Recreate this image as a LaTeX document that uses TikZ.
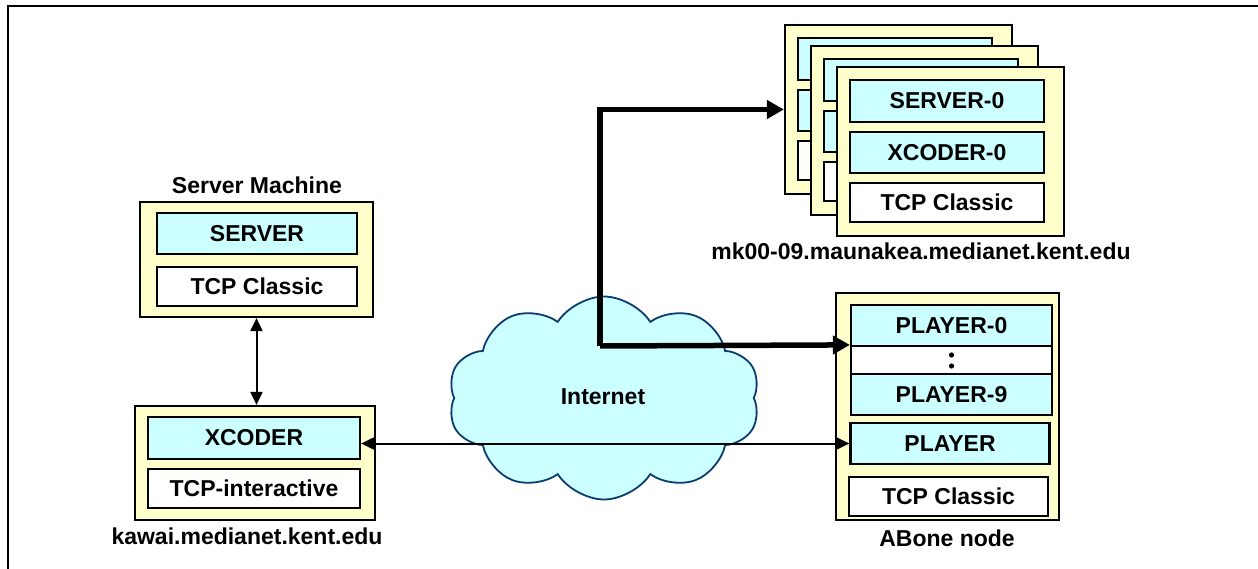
\documentclass[tikz,border=0pt]{standalone}
\usepackage{fontspec}
\setmainfont{Liberation Sans}
\usepackage{xcolor}
\usetikzlibrary{arrows.meta,shapes.symbols}

\definecolor{boxyellow}{HTML}{FFFFCC}
\definecolor{layercyan}{HTML}{CCFFFF}
\definecolor{cloudline}{HTML}{0B3C6E}

\begin{document}
\begin{tikzpicture}[x=1pt,y=-1pt,
    font=\fontsize{23}{25}\selectfont\bfseries,
    machine/.style={draw,fill=boxyellow,line width=2.2pt,inner sep=0pt},
    layer/.style={draw,fill=layercyan,line width=2.2pt,inner sep=0pt,minimum height=41pt},
    plainlayer/.style={draw,fill=white,line width=2.2pt,inner sep=0pt,minimum height=39pt},
    hostname/.style={inner sep=0pt}]
                \useasboundingbox (0,0) rectangle (1258,569);
                \draw[line width=2.6pt] (1258,6) -- (8,6) -- (8,569);
                % the internet
                \node[cloud,cloud puffs=10,cloud puff arc=115,aspect=1.5,draw=cloudline,fill=layercyan,
                      line width=1.8pt,minimum width=312pt,minimum height=203pt] (net) at (604,398) {};
                \node (netlabel) at (603,397) {Internet};
                % server machine
                \node[hostname] (srvlabel) at (257,185) {Server Machine};
                \node[machine,minimum width=233pt,minimum height=115pt] (srvm) at (256.5,259.5) {};
                \node[layer,minimum width=200pt] (srv) at (257,233.5) {SERVER};
                \node[plainlayer,minimum width=200pt] (srvtcp) at (257,286.5) {TCP Classic};
                % transcoder machine
                \node[machine,minimum width=240pt,minimum height=114pt] (xcm) at (255,463) {};
                \node[layer,minimum width=212pt,minimum height=42pt] (xc) at (254,438) {XCODER};
                \node[plainlayer,minimum width=212pt] (xctcp) at (254,488.5) {TCP-interactive};
                \node[hostname] (xclabel) at (247,536) {kawai.medianet.kent.edu};
                % stack of mk nodes
                \foreach \i in {0,1}
                {
                    \node[machine,minimum width=227pt,minimum height=169pt] (stack\i) at (898.5+26*\i,109.5+21*\i) {};
                    \node[layer,minimum width=194pt,minimum height=42pt] at (895+26*\i,59+21*\i) {};
                    \node[layer,minimum width=194pt] at (895+26*\i,110.5+21*\i) {};
                    \node[plainlayer,minimum width=194pt] at (895+26*\i,160.5+21*\i) {};
                }
                \node[machine,minimum width=227pt,minimum height=169pt] (stack2) at (950.5,151.5) {};
                \node[layer,minimum width=194pt,minimum height=42pt] (mksrv) at (947,101) {SERVER-0};
                \node[layer,minimum width=194pt] (mkxc) at (947,152.5) {XCODER-0};
                \node[plainlayer,minimum width=194pt] (mktcp) at (947,202.5) {TCP Classic};
                \node[hostname] (mklabel) at (921,251) {mk00-09.maunakea.medianet.kent.edu};
                % abone node
                \node[machine,minimum width=223pt,minimum height=227pt] (abm) at (947.5,406.5) {};
                \node[layer,minimum width=201pt] (pl0) at (951.5,325.5) {PLAYER-0};
                \node[draw,fill=white,line width=2.2pt,inner sep=0pt,minimum width=201pt,minimum height=28pt] (pldots) at (951.5,360) {};
                \fill (951.5,355) circle (2.6pt) (951.5,366) circle (2.6pt);
                \node[layer,minimum width=201pt] (pl9) at (951.5,394.5) {PLAYER-9};
                \node[layer,minimum width=199pt] (pl) at (950,443.5) {PLAYER};
                \node[plainlayer,minimum width=199pt] (abtcp) at (948.5,496.5) {TCP Classic};
                \node[hostname] (ablabel) at (947,538) {ABone node};
                % connections
                \draw[{Triangle[length=13pt,width=12pt]}-{Triangle[length=13pt,width=12pt]},line width=2pt]
                    (srvm.south) -- (srvm.south |- xcm.north);
                \draw[{Triangle[length=13pt,width=12pt]}-{Triangle[length=13pt,width=12pt]},line width=2pt]
                    (xc.east |- pl.west) -- (pl.west);
                \coordinate (bend) at (600,346);
                \draw[-{Triangle[length=17pt,width=18pt]},line width=5.5pt] (bend) |- (stack0.west);
                \draw[-{Triangle[length=17pt,width=18pt]},line width=5.5pt] (bend) -- (pldots.north west);
            \end{tikzpicture}
\end{document}
